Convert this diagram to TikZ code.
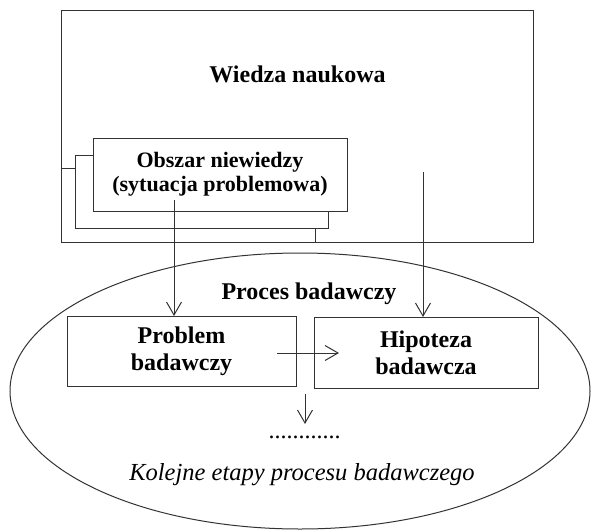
\documentclass[tikz,border=0pt]{standalone}
\usepackage{fontspec}
\setmainfont{Liberation Serif}
\usetikzlibrary{arrows.meta,shapes.geometric}
\begin{document}
\begin{tikzpicture}[x=1pt,y=-1pt, line width=1pt,
  ln/.style={draw=black!80},
  lay/.style={ln, fill=white, rectangle, inner sep=0pt, outer sep=0pt},
  box/.style={lay, align=center, font=\bfseries\fontsize{24}{27}\selectfont},
  lbl/.style={anchor=base, inner sep=0pt, font=\bfseries\fontsize{24}{27}\selectfont},
  arr/.style={ln, -{Straight Barb[length=13pt,width=15pt]}},
]
\useasboundingbox (0,0) rectangle (591,532);
% scientific knowledge
\node[lay, minimum width=472, minimum height=231] (wiedza) at (297,126.5) {};
\node[lbl] (wiedzat) at (297.5,83) {Wiedza naukowa};
% stacked area of ignorance
\node[lay, minimum width=254, minimum height=74] (l3) at (188,205) {};
\node[lay, minimum width=253, minimum height=73] (l2) at (201.5,191.5) {};
\node[box, minimum width=254, minimum height=73, font=\bfseries\fontsize{22}{24}\selectfont] (obszar) at (220,174.5) {Obszar niewiedzy\\(sytuacja problemowa)};
% research process
\node[ln, ellipse, minimum width=580, minimum height=276, inner sep=0pt, outer sep=0pt] (proces) at (300,391) {};
\node[lbl] (procest) at (309,299) {Proces badawczy};
\node[box, minimum width=229, minimum height=70] (problem) at (181.5,351) {Problem\\badawczy};
\node[box, minimum width=224, minimum height=71] (hip) at (426,352.5) {Hipoteza\\badawcza};
\node[anchor=base, inner sep=0pt, font=\fontsize{24}{27}\selectfont] (dots) at (304.5,438) {............};
\node[anchor=base, inner sep=0pt, font=\itshape\fontsize{24.5}{27}\selectfont] (kolejne) at (302,480) {Kolejne etapy procesu badawczego};
% connectors
\coordinate (a1) at (174,200);
\coordinate (a2) at (423,172);
\coordinate (h1) at (277,353);
\coordinate (h2) at (339,353);
\coordinate (d1) at (305,394);
\coordinate (d2) at (305,424);
\draw[arr] (a1) -- (a1 |- problem.north);
\draw[arr] (a2) -- (a2 |- hip.north);
\draw[arr] (h1) -- (h2);
\draw[arr] (d1) -- (d2);
\end{tikzpicture}
\end{document}
